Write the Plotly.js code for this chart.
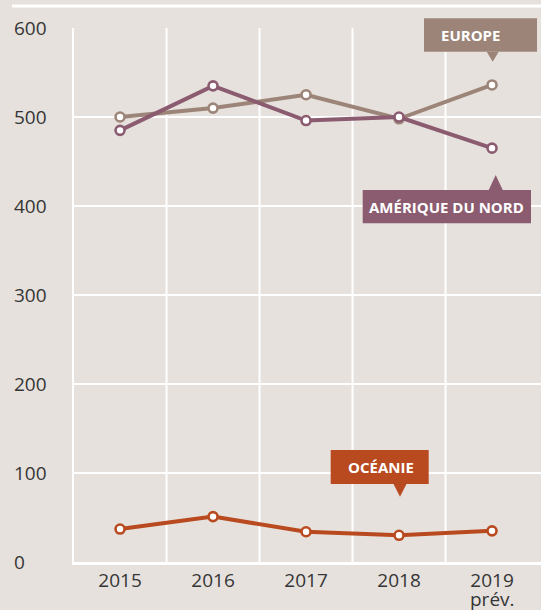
<!DOCTYPE html>
<html>
<head>
<meta charset="utf-8">
<script src="https://cdn.plot.ly/plotly-3.0.1.min.js"></script>
<style>
  html, body { margin: 0; padding: 0; background: #e6e1dd; }
  #chart { width: 541px; height: 610px; }
</style>
</head>
<body>
<div id="chart"></div>
<script>
// ---- Data ----
const categories = ['2015', '2016', '2017', '2018', '2019'];
const forecastNote = 'prév.';
const europe = [500, 510, 525, 498, 536];
const ameriqueDuNord = [485, 535, 496, 500, 465];
const oceanie = [37, 51, 34, 30, 35];
const yTickValues = [0, 100, 200, 300, 400, 500, 600];
const yTickLabels = ['0', '100', '200', '300', '400', '500', '600'];
const seriesNames = ['EUROPE', 'AMÉRIQUE DU NORD', 'OCÉANIE'];

// ---- Styles / layout ----
const BG = '#e6e1dd';
const TXT = '#353535';
const COL_EU = '#9c8578';
const COL_NA = '#8b5b70';
const COL_OC = '#b94a1f';
const FONT = 'Open Sans, Noto Sans, sans-serif';

const W = 541, H = 610;
const M = { l: 74, r: 0, t: 28, b: 48 };
const pw = W - M.l - M.r, ph = H - M.t - M.b;
const px2x = p => (p - M.l) / pw;
const py2y = p => (H - M.b - p) / ph;
const bandPx = 93;
const xIdx = categories.map((_, i) => i);
const xStart = -0.495;
const xRange = [xStart, xStart + pw / bandPx];

function series(name, values, color) {
  return {
    type: 'scatter', mode: 'lines+markers', name: name,
    x: xIdx, y: values,
    line: { color: color, width: 4 },
    marker: { size: 9, color: '#ffffff', line: { color: color, width: 2.6 } },
    cliponaxis: false, hoverinfo: 'x+y'
  };
}

const traces = [
  series(seriesNames[0], europe, COL_EU),
  series(seriesNames[1], ameriqueDuNord, COL_NA),
  series(seriesNames[2], oceanie, COL_OC)
];

const shapes = [];
// vertical grid lines between categories
categories.slice(0, -1).forEach((_, i) => {
  shapes.push({ type: 'line', layer: 'below', xref: 'x', yref: 'paper',
    x0: i + 0.5, x1: i + 0.5, y0: 0, y1: 1, line: { color: '#ffffff', width: 2 } });
});
// top rule
shapes.push({ type: 'line', xref: 'paper', yref: 'paper',
  x0: px2x(12), x1: px2x(541), y0: py2y(6), y1: py2y(6), line: { color: '#ffffff', width: 3 } });

// label boxes with pointers (pixel geometry)
const boxes = [
  { text: seriesNames[0], color: COL_EU, x0: 424, x1: 537, y0: 18.3, y1: 51.7, tipX: 492.7, tipY: 61.7, half: 6, textX: 470 },
  { text: seriesNames[1], color: COL_NA, x0: 362.7, x1: 531, y0: 190, y1: 223.3, tipX: 495.7, tipY: 175, half: 7, textX: 446 },
  { text: seriesNames[2], color: COL_OC, x0: 330.7, x1: 428.7, y0: 450, y1: 484, tipX: 400, tipY: 496.7, half: 6.5, textX: 380.5 }
];
const annotations = [];
boxes.forEach(b => {
  shapes.push({ type: 'rect', xref: 'paper', yref: 'paper',
    x0: px2x(b.x0), x1: px2x(b.x1), y0: py2y(b.y1), y1: py2y(b.y0),
    fillcolor: b.color, line: { width: 0 } });
  const baseY = b.tipY < b.y0 ? b.y0 : b.y1;
  const path = 'M ' + px2x(b.tipX - b.half) + ',' + py2y(baseY) +
    ' L ' + px2x(b.tipX) + ',' + py2y(b.tipY) +
    ' L ' + px2x(b.tipX + b.half) + ',' + py2y(baseY) + ' Z';
  shapes.push({ type: 'path', xref: 'paper', yref: 'paper', path: path,
    fillcolor: b.color, line: { width: 0 } });
  annotations.push({ xref: 'paper', yref: 'paper',
    x: px2x(b.textX), y: py2y((b.y0 + b.y1) / 2),
    xanchor: 'center', yanchor: 'middle', showarrow: false, text: '<b>' + b.text + '</b>',
    font: { family: FONT, size: 15, color: '#ffffff' } });
});

// y tick labels, left aligned
yTickValues.forEach((v, i) => {
  annotations.push({ xref: 'paper', yref: 'y', x: px2x(12), y: v,
    xanchor: 'left', yanchor: 'middle', showarrow: false, text: yTickLabels[i],
    font: { family: FONT, size: 19, color: TXT } });
});
// forecast note under last year
annotations.push({ xref: 'x', yref: 'paper', x: xIdx[xIdx.length - 1], y: py2y(599),
  xanchor: 'center', yanchor: 'middle', showarrow: false, text: forecastNote,
  font: { family: FONT, size: 19, color: TXT } });

const layout = {
  width: W, height: H,
  margin: M,
  paper_bgcolor: BG, plot_bgcolor: BG,
  showlegend: false,
  font: { family: FONT, color: TXT },
  xaxis: {
    range: xRange, tickvals: xIdx, ticktext: categories,
    showgrid: false, zeroline: false, ticks: '',
    showline: true, linecolor: '#ffffff', linewidth: 2.5,
    tickfont: { family: FONT, size: 19, color: TXT },
    fixedrange: true
  },
  yaxis: {
    range: [0, 600], tickvals: yTickValues, showticklabels: false,
    showgrid: true, gridcolor: '#ffffff', gridwidth: 2,
    zeroline: false, ticks: '',
    showline: true, linecolor: '#ffffff', linewidth: 2.5,
    fixedrange: true
  },
  shapes: shapes,
  annotations: annotations
};

Plotly.newPlot('chart', traces, layout, { displayModeBar: false, staticPlot: true });
</script>
</body>
</html>
